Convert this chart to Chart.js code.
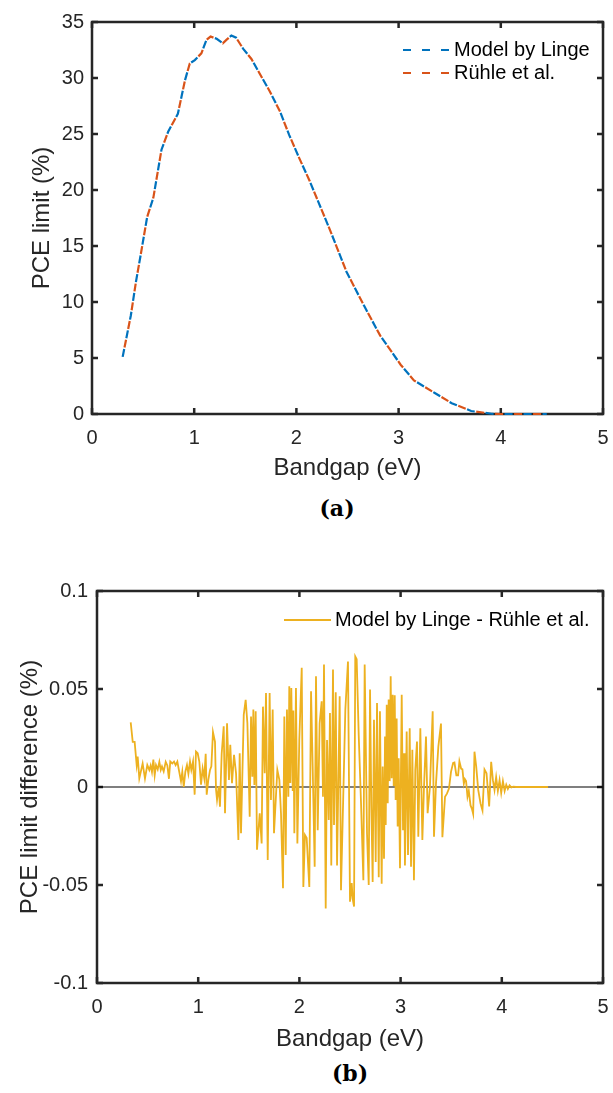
<!DOCTYPE html>
<html>
<head>
<meta charset="utf-8">
<script src="https://cdn.jsdelivr.net/npm/chart.js@4.4.1/dist/chart.umd.min.js"></script>
<style>
  html, body { margin: 0; padding: 0; background: #fff; }
  body { width: 613px; height: 1093px; position: relative; overflow: hidden; }
  .panel { position: absolute; left: 0; }
  #wrapA { top: 0; }
  #wrapB { top: 560px; }
  .caption {
    position: absolute;
    font-family: "DejaVu Serif", serif;
    font-weight: bold;
    font-size: 22px;
    color: #000;
    transform: translate(-50%, -50%);
  }
</style>
</head>
<body>
<div class="panel" id="wrapA"><canvas id="chartA" width="613" height="486"></canvas></div>
<div class="caption" style="left:337px; top:508px;">(a)</div>
<div class="panel" id="wrapB"><canvas id="chartB" width="613" height="498"></canvas></div>
<div class="caption" style="left:350px; top:1073px;">(b)</div>
<script>
// ---- data ----
const xTicks = [0, 1, 2, 3, 4, 5];
const pceTicks = [0, 5, 10, 15, 20, 25, 30, 35];
const diffTicks = [-0.1, -0.05, 0, 0.05, 0.1];

// panel (a): PCE limit vs bandgap
const bandgap = [0.30, 0.38, 0.43, 0.48, 0.54, 0.60, 0.68, 0.745, 0.84, 0.91, 0.957, 1.006, 1.07, 1.12, 1.16,
  1.22, 1.28, 1.315, 1.364, 1.41, 1.48, 1.56, 1.64, 1.74, 1.84, 1.93, 2.03, 2.13, 2.33, 2.49, 2.66, 2.82,
  3.02, 3.15, 3.35, 3.52, 3.71, 3.91, 4.0, 4.45];
const pceLinge = [5.1, 8.8, 11.8, 14.4, 17.6, 19.3, 23.6, 25.2, 26.8, 29.8, 31.3, 31.6, 32.2, 33.4, 33.7,
  33.5, 33.1, 33.4, 33.8, 33.6, 32.6, 31.7, 30.4, 28.8, 27.0, 24.9, 22.8, 20.8, 16.4, 12.7, 9.7, 7.0,
  4.4, 3.0, 1.9, 0.96, 0.27, 0.02, 0, 0];
const pceRuhle = [5.1, 8.8, 11.8, 14.4, 17.6, 19.3, 23.6, 25.2, 26.8, 29.8, 31.3, 31.6, 32.2, 33.4, 33.7,
  33.5, 33.1, 33.4, 33.8, 33.6, 32.6, 31.7, 30.4, 28.8, 27.0, 24.9, 22.8, 20.8, 16.4, 12.7, 9.7, 7.0,
  4.4, 3.0, 1.9, 0.96, 0.27, 0.02, 0, 0];

// panel (b): Linge - Rühle difference
const diffX = [0.333, 0.353, 0.372, 0.392, 0.402, 0.418, 0.451, 0.474, 0.497, 0.517, 0.530, 0.543, 0.557,
  0.570, 0.583, 0.600, 0.616, 0.630, 0.642, 0.659, 0.679, 0.695, 0.711, 0.724, 0.744, 0.761, 0.777, 0.794,
  0.810, 0.830, 0.843, 0.857, 0.873, 0.889, 0.903, 0.919, 0.932, 0.949, 0.965, 0.978, 0.995, 1.011, 1.028,
  1.044, 1.060, 1.074, 1.084, 1.100, 1.117, 1.130, 1.146, 1.166, 1.176, 1.186, 1.203, 1.215, 1.232, 1.252,
  1.265, 1.285, 1.304, 1.317, 1.334, 1.354, 1.374, 1.397, 1.410, 1.423, 1.450, 1.469, 1.486, 1.509, 1.522,
  1.535, 1.545, 1.555, 1.568, 1.581, 1.608, 1.627, 1.640, 1.657, 1.670, 1.687, 1.706, 1.719, 1.736, 1.749,
  1.782, 1.802, 1.818, 1.838, 1.851, 1.865, 1.877, 1.891, 1.900, 1.910, 1.920, 1.934, 1.940, 1.950, 1.966,
  1.980, 1.999, 2.023, 2.039, 2.055, 2.072, 2.098, 2.115, 2.131, 2.151, 2.164, 2.181, 2.200, 2.220, 2.233,
  2.243, 2.260, 2.273, 2.290, 2.302, 2.315, 2.332, 2.342, 2.359, 2.372, 2.398, 2.411, 2.454, 2.480, 2.500,
  2.517, 2.526, 2.540, 2.552, 2.566, 2.586, 2.609, 2.632, 2.645, 2.668, 2.685, 2.698, 2.711, 2.724, 2.737,
  2.754, 2.767, 2.784, 2.796, 2.813, 2.823, 2.836, 2.846, 2.853, 2.863, 2.873, 2.882, 2.892, 2.902, 2.912,
  2.922, 2.932, 2.942, 2.951, 2.961, 2.971, 2.981, 2.994, 3.011, 3.024, 3.034, 3.043, 3.060, 3.073, 3.090,
  3.103, 3.116, 3.132, 3.145, 3.162, 3.175, 3.195, 3.215, 3.231, 3.251, 3.267, 3.290, 3.317, 3.330, 3.350,
  3.373, 3.399, 3.413, 3.439, 3.458, 3.478, 3.498, 3.519, 3.532, 3.551, 3.568, 3.581, 3.598, 3.611, 3.625,
  3.635, 3.647, 3.661, 3.674, 3.691, 3.704, 3.717, 3.730, 3.747, 3.767, 3.790, 3.809, 3.829, 3.849, 3.875,
  3.895, 3.912, 3.928, 3.944, 3.961, 3.978, 3.994, 4.011, 4.028, 4.044, 4.060, 4.077, 4.094, 4.114, 4.140,
  4.457];
const diffY = [0.033, 0.023, 0.023, 0.0112, 0.0155, 0.0044, 0.012, 0.0044, 0.0112, 0.0087, 0.011, 0.0077, 0.014,
  0.006, 0.0112, 0.009, 0.0128, 0.0087, 0.0105, 0.008, 0.0128, 0.011, 0.0042, 0.013, 0.012, 0.013, 0.0112, 0.013,
  0.0085, 0.0029, 0.0078, 0, 0.0078, 0.0112, 0.0068, 0.013, 0.0087, 0.013, -0.0039, 0.0181, 0.0172, 0.013, 0.0012,
  0.0094, 0.0044, 0.017, -0.0039, 0.0036, 0.0087, 0.0105, 0.028, 0.023, -0.0013, -0.0065, 0.0003, -0.01, 0.017, 0.031,
  -0.0134, 0.0325, 0.0036, 0.0215, 0.0019, 0.0164, 0.007, -0.027, 0.0172, -0.0236, 0.0368, 0.0445, 0.0325, -0.0152, 0.036,
  0.0053, 0.0395, 0.001, 0.0386, -0.032, -0.0134, -0.0288, 0.041, 0.007, 0.048, -0.0373, 0.048, -0.0066, 0.0395, -0.0236,
  0.0087, 0.0036, -0.0134, -0.0517, 0.036, -0.0347, 0.0395, -0.005, 0.0514, 0.002, 0.0505, -0.002, 0.039, -0.0236, 0.0505,
  -0.0288, 0.024, 0.0608, -0.051, -0.0245, -0.026, -0.051, 0.0488, 0.011, -0.0407, 0.0565, -0.022, 0.0325, 0.0437, -0.005,
  0.0625, -0.062, 0.024, -0.0168, 0.0377, -0.04, 0.06, -0.0194, 0.0483, -0.04, 0.0463, -0.0527, 0.0395, 0.064, -0.0585,
  -0.049, -0.057, -0.061, 0.0666, 0.0652, 0.0267, -0.0083, -0.0476, 0.0625, -0.0236, -0.05, 0.0497, -0.01, -0.0485, 0.0343,
  -0.0383, 0.0429, -0.046, 0.0386, -0.0494, 0.0104, -0.0366, 0.0258, -0.0194, 0.042, -0.0083, 0.0446, 0.003, 0.0565, 0.0045,
  0.047, 0.0005, 0.0468, -0.0066, 0.035, -0.0202, 0.0147, -0.0415, 0.047, -0.022, 0.0172, -0.04, 0.0283, -0.0347, 0.03,
  -0.0407, 0.019, -0.0476, 0.0087, 0.0232, -0.0254, 0.03, -0.027, -0.0003, 0.0258, -0.0134, 0, 0.0386, -0.0254, 0.002,
  0.0206, 0.0324, -0.0256, -0.005, -0.0034, -0.0008, 0.0077, 0.0123, 0.0125, 0.006, 0.006, 0.0131, 0.0094, 0.009, 0.0017,
  0.004, 0.003, -0.005, -0.002, -0.0094, -0.011, -0.0137, 0.018, 0.0105, -0.0015, -0.0085, -0.012, 0.0089, 0.007, -0.0099,
  0.0128, 0.0035, -0.0015, 0.005, -0.002, 0.0035, -0.003, 0.003, -0.002, 0.0012, -0.001, 0.0008, -0.0002, 0.0002, 0,
  0];
const zeroX = [0, 5];
const zeroY = [0, 0];

// ---- styling helpers ----
Chart.defaults.font.family = '"Liberation Sans", Arial, Helvetica, sans-serif';
Chart.defaults.color = '#262626';
Chart.defaults.animation = false;

const AXIS_COLOR = '#262626';
const toXY = (xs, ys) => xs.map((x, i) => ({ x, y: ys[i] }));
const fixedTicks = (vals) => (scale) => { scale.ticks = vals.map((v) => ({ value: v })); };

// MATLAB style box: full frame with inward ticks on all four sides
const matlabBox = {
  id: 'matlabBox',
  beforeDatasetsDraw(chart) {
    const { ctx, chartArea: a, scales: { x, y } } = chart;
    const len = 6;
    ctx.save();
    ctx.strokeStyle = AXIS_COLOR;
    ctx.lineWidth = 2.5;
    ctx.beginPath();
    x.ticks.forEach((t) => {
      const px = x.getPixelForValue(t.value);
      ctx.moveTo(px, a.bottom); ctx.lineTo(px, a.bottom - len);
      ctx.moveTo(px, a.top); ctx.lineTo(px, a.top + len);
    });
    y.ticks.forEach((t) => {
      const py = y.getPixelForValue(t.value);
      ctx.moveTo(a.left, py); ctx.lineTo(a.left + len, py);
      ctx.moveTo(a.right, py); ctx.lineTo(a.right - len, py);
    });
    ctx.stroke();
    ctx.strokeRect(a.left, a.top, a.right - a.left, a.bottom - a.top);
    ctx.restore();
  },
};

// legend drawn inside the axes, top right
const insideLegend = {
  id: 'insideLegend',
  afterDraw(chart, args, opts) {
    const { ctx, chartArea: a } = chart;
    ctx.save();
    ctx.font = '20px "Liberation Sans", Arial, sans-serif';
    ctx.textBaseline = 'middle';
    let row = 0;
    chart.data.datasets.forEach((ds) => {
      if (ds.noLegend) return;
      const y = a.top + opts.top + row * opts.rowGap;
      const x0 = a.left + opts.left;
      ctx.strokeStyle = ds.borderColor;
      ctx.lineWidth = ds.borderWidth;
      ctx.setLineDash(ds.borderDash || []);
      ctx.beginPath();
      ctx.moveTo(x0, y);
      ctx.lineTo(x0 + 47, y);
      ctx.stroke();
      ctx.setLineDash([]);
      ctx.fillStyle = '#000';
      ctx.fillText(ds.label, x0 + 51, y);
      row++;
    });
    ctx.restore();
  },
};

// x axis: labels pushed down through a tall line height so tick padding
// does not eat into the right-hand plot margin
function xAxisOpts(ticks, height, titlePad) {
  return {
    type: 'linear',
    min: ticks[0],
    max: ticks[ticks.length - 1],
    afterBuildTicks: fixedTicks(ticks),
    afterFit: (s) => { s.height = height; },
    grid: { display: false, drawTicks: false },
    border: { display: false },
    ticks: {
      padding: 0,
      color: AXIS_COLOR,
      font: { size: 20, lineHeight: 2.4 },
      maxRotation: 0,
      autoSkip: false,
      callback: (v) => String(v),
    },
    title: {
      display: true,
      text: 'Bandgap (eV)',
      color: AXIS_COLOR,
      font: { size: 24, lineHeight: 1.2 },
      padding: titlePad,
    },
  };
}

function yAxisOpts(ticks, width, tickPad, titleText, titlePad, fmt) {
  return {
    type: 'linear',
    min: ticks[0],
    max: ticks[ticks.length - 1],
    afterBuildTicks: fixedTicks(ticks),
    afterFit: (s) => { s.width = width; },
    grid: { display: false, drawTicks: false },
    border: { display: false },
    ticks: {
      padding: tickPad,
      color: AXIS_COLOR,
      font: { size: 20 },
      autoSkip: false,
      callback: fmt || ((v) => String(v)),
    },
    title: {
      display: true,
      text: titleText,
      color: AXIS_COLOR,
      font: { size: 24, lineHeight: 1.2 },
      padding: titlePad,
    },
  };
}

// ---- panel (a) ----
new Chart(document.getElementById('chartA'), {
  type: 'line',
  data: {
    datasets: [
      {
        label: 'Model by Linge',
        data: toXY(bandgap, pceLinge),
        borderColor: '#0072BD',
        borderWidth: 2.2,
        borderDash: [8, 11],
        pointRadius: 0,
        tension: 0,
        clip: false,
      },
      {
        label: 'Rühle et al.',
        data: toXY(bandgap, pceRuhle),
        borderColor: '#D95319',
        borderWidth: 2.2,
        borderDash: [8, 11],
        borderDashOffset: 9.5,
        pointRadius: 0,
        tension: 0,
        clip: false,
      },
    ],
  },
  options: {
    responsive: false,
    layout: { padding: { top: 22, right: 10, left: 0, bottom: 0 } },
    plugins: {
      legend: { display: false },
      tooltip: { enabled: false },
      insideLegend: { left: 311, top: 28, rowGap: 23 },
    },
    scales: {
      x: xAxisOpts(xTicks, 72, { top: 0, bottom: 3 }),
      y: yAxisOpts(pceTicks, 92, 8, 'PCE limit (%)', { top: 28, bottom: 0 }),
    },
  },
  plugins: [matlabBox, insideLegend],
});

// ---- panel (b) ----
new Chart(document.getElementById('chartB'), {
  type: 'line',
  data: {
    datasets: [
      {
        label: 'Model by Linge - Rühle et al.',
        data: toXY(diffX, diffY),
        borderColor: '#EDB120',
        borderWidth: 1.8,
        pointRadius: 0,
        tension: 0,
      },
      {
        label: 'zero',
        noLegend: true,
        data: toXY(zeroX, zeroY),
        borderColor: '#000000',
        borderWidth: 1.2,
        pointRadius: 0,
      },
    ],
  },
  options: {
    responsive: false,
    layout: { padding: { top: 31, right: 10, left: 0, bottom: 0 } },
    plugins: {
      legend: { display: false },
      tooltip: { enabled: false },
      insideLegend: { left: 187, top: 29, rowGap: 23 },
    },
    scales: {
      x: xAxisOpts(xTicks, 75, { top: 0, bottom: 4 }),
      y: yAxisOpts(diffTicks, 97, 9, 'PCE limit difference (%)', { top: 16, bottom: 0 },
        (v) => String(+Number(v).toFixed(2))),
    },
  },
  plugins: [matlabBox, insideLegend],
});
</script>
</body>
</html>
